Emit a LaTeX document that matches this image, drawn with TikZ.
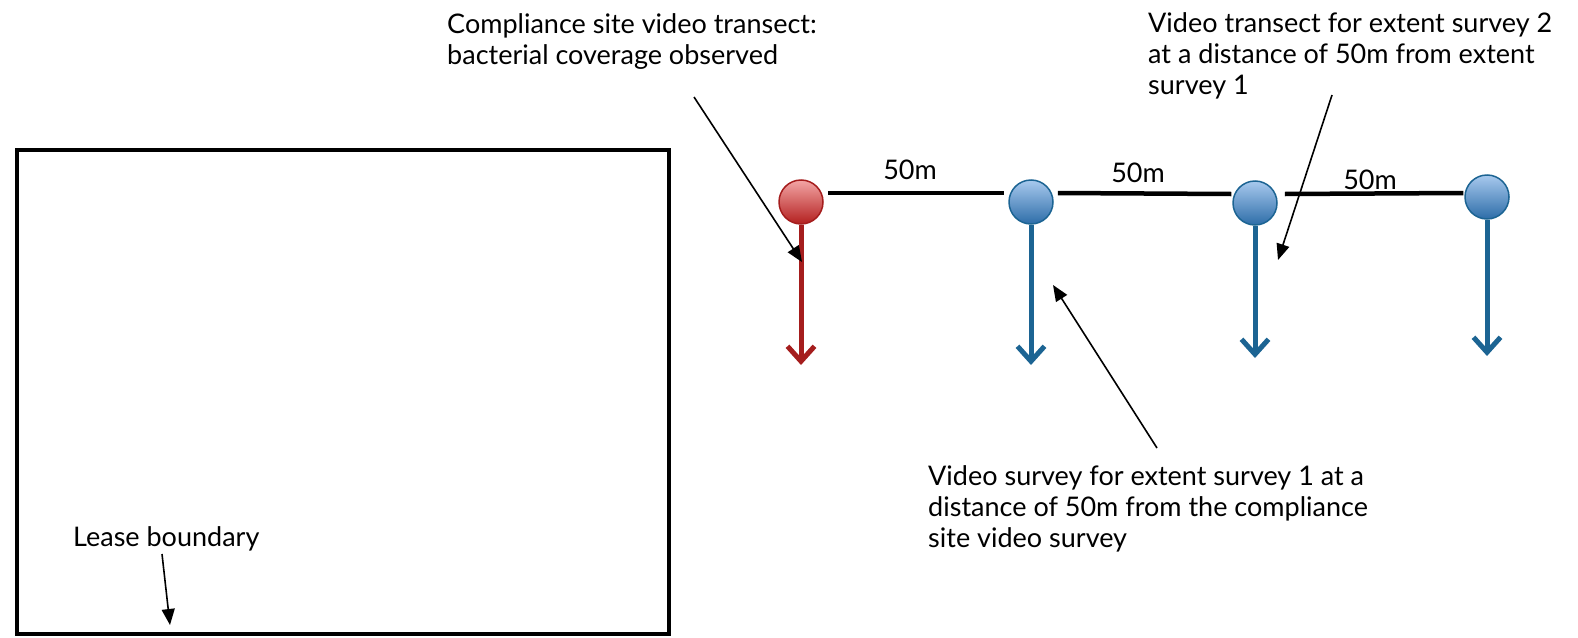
\documentclass[tikz,border=0pt]{standalone}
\usepackage{fontspec}
\setmainfont{Lato}
\usetikzlibrary{arrows.meta,calc}
\definecolor{redline}{HTML}{A51D1D}
\definecolor{redtop}{HTML}{F3A5A5}
\definecolor{redbot}{HTML}{B3201F}
\definecolor{blueline}{HTML}{1C6493}
\definecolor{bluetop}{HTML}{A8C9EE}
\definecolor{bluebot}{HTML}{2D6DA8}
\tikzset{
  lbl/.style={font=\fontsize{27}{31}\selectfont, align=left, inner sep=0pt, anchor=north west},
  dist/.style={font=\fontsize{27}{31}\selectfont, inner sep=0pt},
  redsite/.style={circle, minimum size=44pt, inner sep=0pt, draw=redline, line width=1.5pt, top color=redtop, bottom color=redbot},
  bluesite/.style={circle, minimum size=44pt, inner sep=0pt, draw=blueline, line width=1.5pt, top color=bluetop, bottom color=bluebot},
  seg/.style={line width=4.5pt, black},
  redarrow/.style={line width=5pt, redline, -{Straight Barb[length=15pt,width=27pt]}},
  bluearrow/.style={line width=5pt, blueline, -{Straight Barb[length=15pt,width=27pt]}},
  note/.style={line width=1.6pt, black, -{Triangle[length=16pt,width=13pt]}},
}
\begin{document}
\begin{tikzpicture}[x=1pt,y=-1pt]
\path[use as bounding box] (0,0) rectangle (1578,637);

% lease rectangle
\draw[line width=4.5pt] (17,150) rectangle (669,634);

% sites
\node[redsite] (c1) at (801,202) {};
\node[bluesite] (c2) at (1031,202) {};
\node[bluesite] (c3) at (1255,203) {};
\node[bluesite] (c4) at (1487,197) {};

% spacing lines
\draw[seg] ([xshift=4pt,yshift=9pt]c1.east) -- ([xshift=-4pt,yshift=9pt]c2.west);
\draw[seg] ([xshift=4pt,yshift=9pt]c2.east) -- ([xshift=-1pt,yshift=9pt]c3.west);
\draw[seg] ([xshift=7pt,yshift=9pt]c3.east) -- ([xshift=-1pt,yshift=4pt]c4.west);

\node[dist] (d1) at (910,170) {50m};
\node[dist] (d2) at (1138,173) {50m};
\node[dist] (d3) at (1370,180) {50m};

% transects
\coordinate (t1) at (801,365);
\coordinate (t2) at (1031,365);
\coordinate (t3) at (1255,358);
\coordinate (t4) at (1487,356);
\draw[redarrow] (c1.south) -- (t1);
\draw[bluearrow] (c2.south) -- (t2);
\draw[bluearrow] (c3.south) -- (t3);
\draw[bluearrow] (c4.south) -- (t4);

% labels
\node[lbl, anchor=north east] (comp) at (817,13) {Compliance site video transect:\\bacterial coverage observed};
\node[lbl] (ext2) at (1148,12) {Video transect for extent survey 2\\at a distance of 50m from extent\\survey 1};
\node[lbl] (ext1) at (928,465) {Video survey for extent survey 1 at a\\distance of 50m from the compliance\\site video survey};
\node[lbl] (lease) at (73,526) {Lease boundary};

% annotation arrows
\coordinate (a1s) at (694,97);
\coordinate (a1e) at (802,262);
\coordinate (a2s) at (1332,95);
\coordinate (a2e) at (1278,260);
\coordinate (a3s) at (1157,448);
\coordinate (a3e) at (1053,285);
\coordinate (a4s) at (162,554);
\coordinate (a4e) at (170,625);
\draw[note] (a1s) -- (a1e);
\draw[note] (a2s) -- (a2e);
\draw[note] (a3s) -- (a3e);
\draw[note] (a4s) -- (a4e);
\end{tikzpicture}
\end{document}
